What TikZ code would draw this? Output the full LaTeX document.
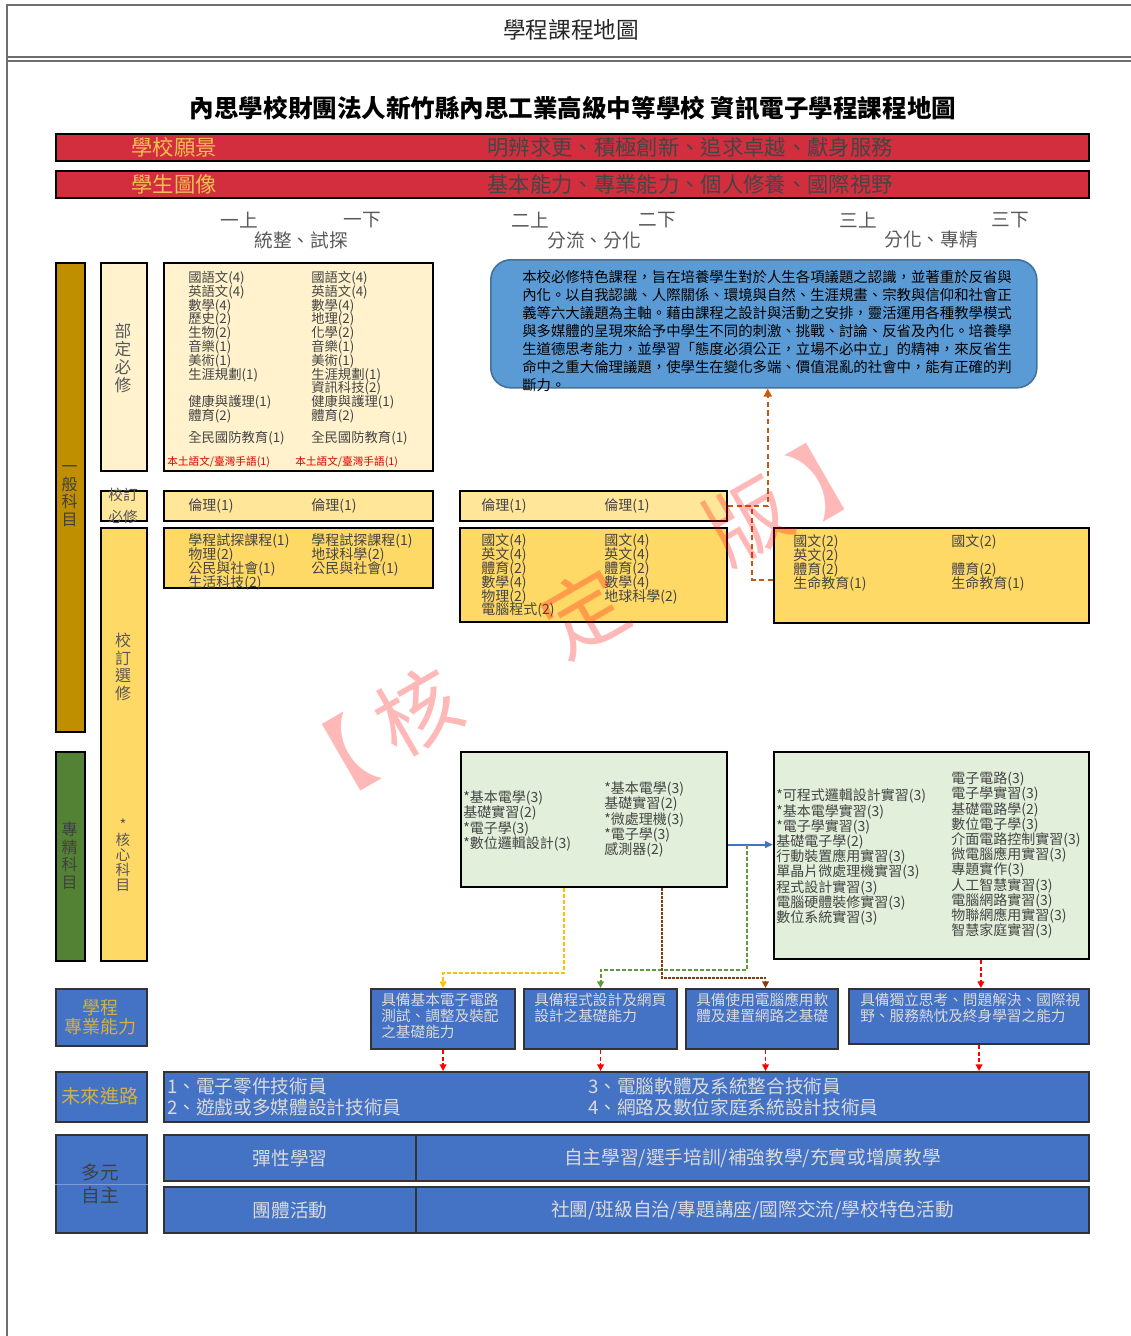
\documentclass[tikz,border=0pt]{standalone}
\usepackage{fontspec}
\setmainfont{Noto Sans CJK TC}
\usetikzlibrary{arrows.meta}
\definecolor{cream}{HTML}{FFF2CC}
\definecolor{lyel}{HTML}{FFE699}
\definecolor{yel}{HTML}{FFD966}
\definecolor{goldbar}{HTML}{BF8F00}
\definecolor{dgreen}{HTML}{548235}
\definecolor{lgreen}{HTML}{E2EFDA}
\definecolor{bblue}{HTML}{4472C4}
\definecolor{sky}{HTML}{5B9BD5}
\definecolor{skyline}{HTML}{41719C}
\definecolor{barred}{HTML}{D22E3E}
\definecolor{labgold}{HTML}{F0C050}
\definecolor{ltext}{HTML}{DADADA}
\definecolor{dtext}{HTML}{454545}
\definecolor{ltgold}{HTML}{D6B040}
\definecolor{orng}{HTML}{C55A11}
\definecolor{ydsh}{HTML}{FFC000}
\definecolor{gdsh}{HTML}{5E9A3A}
\definecolor{bdsh}{HTML}{843C0C}
\definecolor{rdsh}{HTML}{FF0000}
\definecolor{framec}{HTML}{6E6E6E}
\newcommand\nolsk{\lineskiplimit -100pt\lineskip 0pt\relax}
\newcommand\boxnode[7]{\node[#1,anchor=north west,minimum width=#4*0.75pt,minimum height=#5*0.75pt,inner sep=0pt] (#6) at (#2,#3) {#7};}
\begin{document}
\begin{tikzpicture}[x=0.75pt,y=-0.75pt,
  bk/.style={draw=black,line width=1.6pt},
  bb/.style={draw=black!80,line width=1.6pt,fill=bblue},
  tx/.style={inner sep=0pt,align=center},
  lst/.style={inner sep=0pt,align=left,anchor=north west,text=dtext},
  lsa/.style={lst,font=\fontsize{10}{10.35}\selectfont\nolsk},
  lsb/.style={lst,font=\fontsize{10.5}{10.35}\selectfont\nolsk},
  lsg/.style={lst,font=\fontsize{10.5}{11.4}\selectfont\nolsk},
  abt/.style={inner sep=0pt,align=left,anchor=north west,text=ltext,font=\fontsize{11}{12}\selectfont\nolsk},
  one/.style={inner sep=0pt,anchor=west,text=dtext,font=\fontsize{10.5}{10.5}\selectfont},
  sem/.style={tx,text=black!65,font=\fontsize{14}{14}\selectfont},
  vt/.style={tx,text=black!75,font=\fontsize{12}{13.1}\selectfont\nolsk},
  rar/.style={draw=rdsh,line width=1.2pt,dash pattern=on 3pt off 2pt,-{Triangle[length=5pt,width=5pt]}},
  wm/.style={text=red,opacity=0.28,font=\fontsize{62}{62}\selectfont,rotate=30,inner sep=0pt}]
\useasboundingbox (0,0) rectangle (1131,1336);
% frame
\draw[draw=framec,line width=2.2pt] (7,1336) -- (7,5) -- (1131,5);
\draw[draw=framec,line width=1.2pt] (7,57) -- (1131,57);
\draw[draw=framec,line width=0.9pt] (7,61) -- (1131,61);
\node[tx,font=\fontsize{17}{17}\selectfont,text=black!85] (ttl) at (571,30) {學程課程地圖};
\node[tx,font=\fontsize{18.4}{18.4}\selectfont\bfseries] (mt) at (573,108) {內思學校財團法人新竹縣內思工業高級中等學校 資訊電子學程課程地圖};
% red bars
\boxnode{bk,fill=barred}{55}{133}{1033}{27}{vis}{}
\node[tx,font=\fontsize{16}{16}\selectfont,text=labgold] (visl) at (174,147) {學校願景};
\node[tx,font=\fontsize{16}{16}\selectfont,text=dtext] (vist) at (690,147) {明辨求更、積極創新、追求卓越、獻身服務};
\boxnode{bk,fill=barred}{55}{170}{1033}{27}{por}{}
\node[tx,font=\fontsize{16}{16}\selectfont,text=labgold] (porl) at (174,184) {學生圖像};
\node[tx,font=\fontsize{16}{16}\selectfont,text=dtext] (port) at (690,184) {基本能力、專業能力、個人修養、國際視野};
% semesters
\node[sem] (s1) at (239,220) {一上};
\node[sem] (s2) at (362,220) {一下};
\node[sem] (s3) at (530,220) {二上};
\node[sem] (s4) at (657,220) {二下};
\node[sem] (s5) at (858,220) {三上};
\node[sem] (s6) at (1010,220) {三下};
\node[sem] (p1) at (301,240) {統整、試探};
\node[sem] (p2) at (594,240) {分流、分化};
\node[sem] (p3) at (931,240) {分化、專精};
% left bars
\boxnode{bk,fill=goldbar}{55}{262}{29}{469}{gen}{}
\node[vt] (genl) at (69.5,496) {一\\般\\科\\目};
\boxnode{bk,fill=dgreen}{55}{751}{29}{209}{spc}{}
\node[vt] (spcl) at (69.5,856) {專\\精\\科\\目};
\boxnode{bk,fill=cream}{100}{262}{46}{208}{bdl}{}
\node[tx,text=black!65,font=\fontsize{12.5}{13.5}\selectfont\nolsk] (bdlt) at (123,358) {部\\定\\必\\修};
\boxnode{bk,fill=lyel}{100}{490}{46}{30}{xrl}{}
\node[tx,text=black!65,font=\fontsize{11}{16.5}\selectfont\nolsk] (xrlt) at (123,506) {校訂\\必修};
\boxnode{bk,fill=yel}{100}{527}{46}{433}{xsl}{}
\node[tx,text=black!65,font=\fontsize{12}{13.1}\selectfont\nolsk] (xslt) at (123,667) {校\\訂\\選\\修};
\node[tx,text=black!65,font=\fontsize{11}{11.25}\selectfont\nolsk] (core) at (123,855) {*\\核\\心\\科\\目};
% required box
\boxnode{bk,fill=cream}{163}{262}{269}{208}{bdb}{}
\node[lsa] (bdb1) at (188,271) {國語文(4)\\英語文(4)\\數學(4)\\歷史(2)\\生物(2)\\音樂(1)\\美術(1)\\生涯規劃(1)\\[10.35pt]健康與護理(1)\\體育(2)\\[6.2pt]全民國防教育(1)};
\node[lsa] (bdb2) at (311,271) {國語文(4)\\英語文(4)\\數學(4)\\地理(2)\\化學(2)\\音樂(1)\\美術(1)\\生涯規劃(1)\\資訊科技(2)\\健康與護理(1)\\體育(2)\\[6.2pt]全民國防教育(1)};
\node[inner sep=0pt,anchor=west,font=\fontsize{8}{8}\selectfont,text=red!85!black] (nt1) at (167,462) {本土語文/臺灣手語(1)};
\node[inner sep=0pt,anchor=west,font=\fontsize{8}{8}\selectfont,text=red!85!black] (nt2) at (295,462) {本土語文/臺灣手語(1)};
% ethics
\boxnode{bk,fill=lyel}{163}{490}{269}{30}{eth1}{}
\node[one] (eth1a) at (188,506) {倫理(1)};
\node[one] (eth1b) at (311,506) {倫理(1)};
\boxnode{bk,fill=lyel}{459}{490}{267}{30}{eth2}{}
\node[one] (eth2a) at (481,506) {倫理(1)};
\node[one] (eth2b) at (604,506) {倫理(1)};
% selected
\boxnode{bk,fill=yel}{163}{527}{269}{60}{sel1}{}
\node[lsb] (sel1a) at (188,533.7) {學程試探課程(1)\\物理(2)\\公民與社會(1)\\生活科技(2)};
\node[lsb] (sel1b) at (311,533.7) {學程試探課程(1)\\地球科學(2)\\公民與社會(1)};
\boxnode{bk,fill=yel}{459}{527}{267}{94}{sel2}{}
\node[lsb] (sel2a) at (481,533.7) {國文(4)\\英文(4)\\體育(2)\\數學(4)\\物理(2)\\電腦程式(2)};
\node[lsb] (sel2b) at (604,533.7) {國文(4)\\英文(4)\\體育(2)\\數學(4)\\地球科學(2)};
\boxnode{bk,fill=yel}{773}{527}{315}{95}{rbox}{}
\node[lsb] (rba) at (793,534.7) {國文(2)\\英文(2)\\體育(2)\\生命教育(1)};
\node[lsb] (rbb) at (951,534.7) {國文(2)\\[10.35pt]體育(2)\\生命教育(1)};
% mission
\node[draw=skyline,line width=1.2pt,fill=sky,rounded corners=15pt,anchor=north west,minimum width=546*0.75pt,minimum height=128*0.75pt,inner sep=0pt] (mis) at (490,259) {};
\node[inner sep=0pt,align=left,anchor=north west,font=\fontsize{10.8}{13.4}\selectfont\nolsk,text=black] (mist) at (522,270.5) {本校必修特色課程，旨在培養學生對於人生各項議題之認識，並著重於反省與\\內化。以自我認識、人際關係、環境與自然、生涯規畫、宗教與信仰和社會正\\義等六大議題為主軸。藉由課程之設計與活動之安排，靈活運用各種教學模式\\與多媒體的呈現來給予中學生不同的刺激、挑戰、討論、反省及內化。培養學\\生道德思考能力，並學習「態度必須公正，立場不必中立」的精神，來反省生\\命中之重大倫理議題，使學生在變化多端、價值混亂的社會中，能有正確的判\\斷力。};
% green boxes
\boxnode{bk,fill=lgreen}{460}{751}{266}{135}{g1}{}
\node[lsg] (g1a) at (463,790.7) {*基本電學(3)\\基礎實習(2)\\*電子學(3)\\*數位邏輯設計(3)};
\node[lsg] (g1b) at (604,781.7) {*基本電學(3)\\基礎實習(2)\\*微處理機(3)\\*電子學(3)\\感測器(2)};
\boxnode{bk,fill=lgreen}{773}{751}{315}{207}{g2}{}
\node[lsg] (g2a) at (776,788.7) {*可程式邏輯設計實習(3)\\*基本電學實習(3)\\*電子學實習(3)\\基礎電子學(2)\\行動裝置應用實習(3)\\單晶片微處理機實習(3)\\程式設計實習(3)\\電腦硬體裝修實習(3)\\數位系統實習(3)};
\node[lsg] (g2b) at (951,771.7) {電子電路(3)\\電子學實習(3)\\基礎電路學(2)\\數位電子學(3)\\介面電路控制實習(3)\\微電腦應用實習(3)\\專題實作(3)\\人工智慧實習(3)\\電腦網路實習(3)\\物聯網應用實習(3)\\智慧家庭實習(3)};
% abilities
\boxnode{bb}{55}{988}{91}{57}{pcap}{}
\node[tx,text=ltgold,font=\fontsize{13.5}{14.25}\selectfont\nolsk] (pcapt) at (100,1017.5) {學程\\專業能力};
\boxnode{bb}{370}{988}{144}{60}{ab1}{}
\node[abt] (ab1t) at (381,992.4) {具備基本電子電路\\測試、調整及裝配\\之基礎能力};
\boxnode{bb}{523}{988}{153}{60}{ab2}{}
\node[abt] (ab2t) at (534,992.4) {具備程式設計及網頁\\設計之基礎能力};
\boxnode{bb}{685}{988}{152}{60}{ab3}{}
\node[abt] (ab3t) at (696,992.4) {具備使用電腦應用軟\\體及建置網路之基礎};
\boxnode{bb}{848}{988}{240}{55}{ab4}{}
\node[abt] (ab4t) at (860,992.4) {具備獨立思考、問題解決、國際視\\野、服務熱忱及終身學習之能力};
% future
\boxnode{bb}{55}{1071}{91}{50}{futl}{}
\node[tx,text=ltgold,font=\fontsize{14.4}{14.4}\selectfont] (futlt) at (100,1096) {未來進路};
\boxnode{bb}{163}{1071}{925}{50}{fut}{}
\node[inner sep=0pt,align=left,anchor=north west,text=ltext,font=\fontsize{14}{15.75}\selectfont\nolsk] (futa) at (167,1077.6) {1、電子零件技術員\\2、遊戲或多媒體設計技術員};
\node[inner sep=0pt,align=left,anchor=north west,text=ltext,font=\fontsize{14}{15.75}\selectfont\nolsk] (futb) at (588,1077.6) {3、電腦軟體及系統整合技術員\\4、網路及數位家庭系統設計技術員};
% multi
\boxnode{bb}{55}{1134}{91}{98}{multi}{}
\draw[draw=bblue!70!white,line width=0.6pt] (multi.west) -- (multi.east);
\node[tx,text=black!75,font=\fontsize{14}{17.25}\selectfont\nolsk] (multit) at (100,1183.5) {多元\\自主};
\boxnode{bb,text=ltext,font=\fontsize{14}{14}\selectfont}{163}{1134}{252}{46}{flexa}{彈性學習}
\boxnode{bb,text=ltext,font=\fontsize{14}{14}\selectfont}{415}{1134}{673}{46}{flexb}{自主學習/選手培訓/補強教學/充實或增廣教學}
\boxnode{bb,text=ltext,font=\fontsize{14}{14}\selectfont}{163}{1186}{252}{46}{grpa}{團體活動}
\boxnode{bb,text=ltext,font=\fontsize{14}{14}\selectfont}{415}{1186}{673}{46}{grpb}{社團/班級自治/專題講座/國際交流/學校特色活動}
% connectors
\draw[draw=orng,line width=1.8pt,dash pattern=on 4pt off 2.5pt,-{Triangle[length=6pt,width=6pt]}] (eth2.east) -| ([xshift=3pt]mis.south);
\draw[draw=orng,line width=1.8pt,dash pattern=on 4pt off 2.5pt] ([yshift=-3.4pt]rbox.west) -| ([xshift=18pt]eth2.east);
\draw[draw=bblue,line width=1.5pt,-{Triangle[length=6pt,width=5pt]}] ([yshift=-18.75pt]g1.east) -- ([yshift=-18.75pt]g1.east -| g2.west);
\draw[draw=ydsh,line width=1.4pt,dash pattern=on 3pt off 1.5pt,-{Triangle[length=5pt,width=5pt]}] ([xshift=-22.5pt]g1.south) -- ++(0,85) -| (ab1.north);
\draw[draw=gdsh,line width=1.4pt,dash pattern=on 3pt off 1.5pt,-{Triangle[length=5pt,width=5pt]}] ([xshift=14.25pt,yshift=-18.75pt]g1.east) -- ++(0,125) -| (ab2.north);
\draw[draw=bdsh,line width=1.4pt,dash pattern=on 2pt off 1pt,-{Triangle[length=5pt,width=5pt]}] ([xshift=51pt]g1.south) -- ++(0,90) -| ([xshift=2.6pt]ab3.north);
\draw[rar] ([xshift=37pt]g2.south) -- ([xshift=37pt]g2.south |- ab4.north);
\draw[rar] (ab1.south) -- (ab1.south |- fut.north);
\draw[rar] (ab2.south) -- (ab2.south |- fut.north);
\draw[rar] ([xshift=2.6pt]ab3.south) -- ([xshift=2.6pt]ab3.south |- fut.north);
\draw[rar] ([xshift=7.5pt]ab4.south) -- ([xshift=7.5pt]ab4.south |- fut.north);
% watermark
\node[wm] (wm1) at (330,765) {【};
\node[wm] (wm2) at (418,712) {核};
\node[wm] (wm3) at (585,612) {定};
\node[wm] (wm4) at (748,520) {版};
\node[wm] (wm5) at (838,470) {】};
\end{tikzpicture}
\end{document}
